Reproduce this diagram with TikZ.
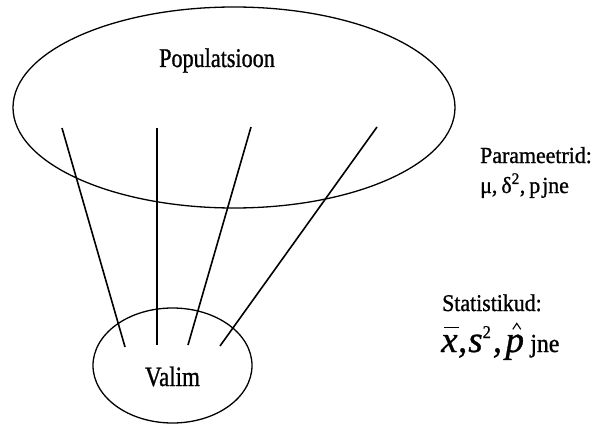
\documentclass[tikz,border=0pt]{standalone}
\usepackage{fontspec}
\setmainfont{Liberation Serif}
\newfontfamily\popfont[FakeStretch=0.82,FakeBold=1]{Liberation Serif}
\newfontfamily\parfont[FakeStretch=0.95,FakeBold=1]{Liberation Serif}
\newfontfamily\statfont[FakeStretch=0.91,FakeBold=1]{Liberation Serif}
\newfontfamily\bigit[FakeBold=0.8]{Liberation Serif Italic}
\usetikzlibrary{shapes.geometric}
\begin{document}
\begin{tikzpicture}[x=1pt,y=-1pt,
  oval/.style={draw,ellipse,line width=1.3pt,inner sep=0pt},
  ray/.style={line width=1.6pt},
  lbl/.style={inner sep=0pt},
  bigital/.style={lbl,anchor=base west,font=\bigit\fontsize{37}{40}\selectfont},
  accent/.style={line width=1.1pt}]
\useasboundingbox (0,0) rectangle (594,425);
\node[oval,minimum width=442pt,minimum height=201pt] (pop) at (234,107.5) {};
\node[oval,minimum width=159pt,minimum height=115pt] (val) at (172.5,365.5) {};
\node[lbl,anchor=base west,font=\popfont\fontsize{27}{30}\selectfont] (poptxt) at (159,67) {Populatsioon};
\node[lbl,anchor=base,font=\popfont\fontsize{28}{30}\selectfont] (valtxt) at (172.5,386) {Valim};
\coordinate (a1) at (62,128);  \coordinate (b1) at (125,347);
\coordinate (a2) at (157,128); \coordinate (b2) at (157,345);
\coordinate (a3) at (251,127); \coordinate (b3) at (188,345);
\coordinate (a4) at (377,127); \coordinate (b4) at (220,346);
\draw[ray] (a1) -- (b1);
\draw[ray] (a2) -- (b2);
\draw[ray] (a3) -- (b3);
\draw[ray] (a4) -- (b4);
\node[lbl,anchor=base west,font=\parfont\fontsize{23}{26}\selectfont] (par) at (480,163) {Parameetrid:};
\node[lbl,anchor=base west,font=\parfont\fontsize{23}{26}\selectfont] (parv) at (480,193) {μ,\kern4pt δ\textsuperscript{2},\kern4pt p\kern2pt jne};
\node[lbl,anchor=base west,font=\statfont\fontsize{24}{26}\selectfont] (stat) at (442,311) {Statistikud:};
\node[bigital] (xv) at (441,352) {x};
\node[bigital] (sv) at (xv.base east) {,\kern1pt s\raisebox{14pt}[0pt][0pt]{\statfont\fontsize{18}{18}\selectfont 2}\kern2pt,\kern3pt};
\node[bigital] (pv) at (sv.base east) {p};
\node[lbl,anchor=base west,font=\statfont\fontsize{26}{26}\selectfont] (jne) at (pv.base east) {\kern6pt jne};
\draw[accent] ([xshift=3pt,yshift=7pt]xv.north west) -- ([xshift=1pt,yshift=7pt]xv.north east);
\draw[accent] ([xshift=-2pt,yshift=5pt]pv.north) -- ([xshift=2pt,yshift=11pt]pv.north) -- ([xshift=6pt,yshift=5pt]pv.north);
\end{tikzpicture}
\end{document}
